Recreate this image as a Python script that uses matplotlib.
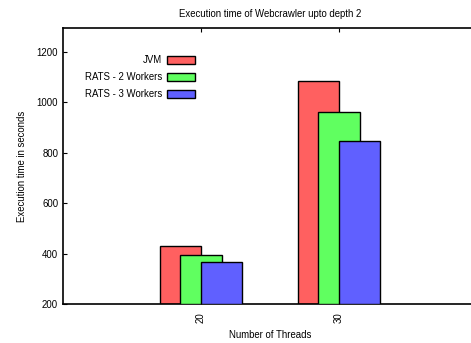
import matplotlib
matplotlib.use("Agg")
import matplotlib.pyplot as plt
import numpy as np

plt.rcParams['font.family'] = ['Liberation Sans', 'DejaVu Sans']

threads = ['20', '30']
series = ['JVM', 'RATS - 2 Workers', 'RATS - 3 Workers']
jvm = [430, 1086]
rats2 = [396, 963]
rats3 = [368, 848]
colors = ['#ff6060', '#60ff60', '#6060ff']

fs = 6.9
fig = plt.figure(figsize=(4.71, 3.43), dpi=100)
ax = fig.add_axes([63/471, 1-304/343, 414/471, 276/343])

x = np.arange(len(threads))
w = 0.3
for i, (vals, lab, c) in enumerate(zip([jvm, rats2, rats3], series, colors)):
    ax.bar(x + (i - 1) * 0.15, np.array(vals) - 200, w, bottom=200, color=c,
           edgecolor='black', linewidth=1, label=lab, zorder=2 + i)

ax.set_xlim(-1, 2)
ax.set_ylim(200, 1295)
ax.set_yticks([200, 400, 600, 800, 1000, 1200])
ax.set_xticks(x)
ax.set_xticklabels(threads, rotation=90)
ax.tick_params(direction='in', labelsize=fs, length=3, top=True, right=False)
ax.tick_params(axis='x', pad=6)
for s in ax.spines.values():
    s.set_linewidth(1.2)

ax.set_title('Execution time of Webcrawler upto depth 2', fontsize=fs, pad=8)
ax.set_xlabel('Number of Threads', fontsize=fs, labelpad=5)
ax.set_ylabel('Execution time in seconds', fontsize=fs, labelpad=7)

ax.legend(loc='upper right', bbox_to_anchor=(195/471, 1-55/343),
          bbox_transform=fig.transFigure, frameon=False, fontsize=fs,
          markerfirst=False, handlelength=2.9, handleheight=0.85,
          labelspacing=0.75, handletextpad=0.5, borderpad=0, borderaxespad=0)

fig.savefig('out.png', dpi=100)
